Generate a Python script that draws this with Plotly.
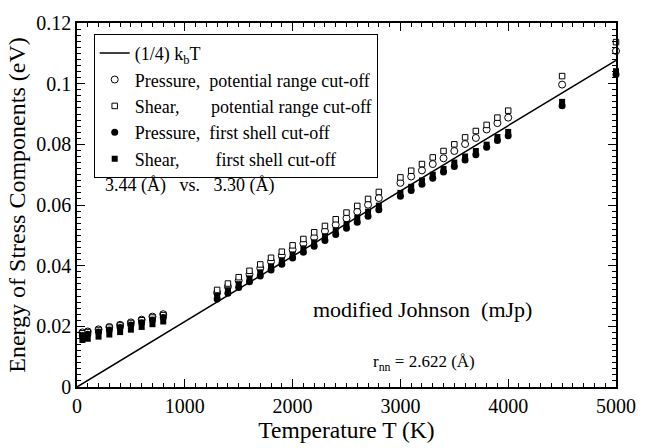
import plotly.graph_objects as go

# Temperatures (K)
temps = [50, 100, 200, 300, 400, 500, 600, 700, 800,
         1300, 1400, 1500, 1600, 1700, 1800, 1900, 2000, 2100, 2200,
         2300, 2400, 2500, 2600, 2700, 2800,
         3000, 3100, 3200, 3300, 3400, 3500, 3600, 3700, 3800, 3900, 4000,
         4500, 5000]

# Pressure, potential range cut-off (eV)
pressure_range = [0.0180, 0.0183, 0.0190, 0.0198, 0.0205, 0.0213, 0.0222, 0.0232, 0.0240,
                  0.0311, 0.0331, 0.0351, 0.0372, 0.0392, 0.0414, 0.0433, 0.0453, 0.0473, 0.0493,
                  0.0514, 0.0535, 0.0556, 0.0578, 0.0601, 0.0623,
                  0.0673, 0.0694, 0.0714, 0.0735, 0.0754, 0.0778, 0.0801, 0.0821, 0.0849, 0.0870, 0.0888,
                  0.0997, 0.1108]

# Shear, potential range cut-off (eV)
shear_range = [0.0177, 0.0181, 0.0188, 0.0196, 0.0203, 0.0211, 0.0220, 0.0229, 0.0237,
               0.0320, 0.0341, 0.0362, 0.0383, 0.0404, 0.0426, 0.0446, 0.0467, 0.0488, 0.0510,
               0.0531, 0.0553, 0.0575, 0.0597, 0.0620, 0.0643,
               0.0691, 0.0713, 0.0735, 0.0757, 0.0778, 0.0800, 0.0823, 0.0844, 0.0864, 0.0888, 0.0911,
               0.1025, 0.1137]

# Pressure, first shell cut-off (eV)
pressure_shell = [0.0170, 0.0174, 0.0181, 0.0188, 0.0196, 0.0204, 0.0212, 0.0221, 0.0229,
                  0.0290, 0.0309, 0.0328, 0.0347, 0.0366, 0.0386, 0.0405, 0.0425, 0.0444, 0.0464,
                  0.0483, 0.0503, 0.0523, 0.0543, 0.0563, 0.0584,
                  0.0629, 0.0648, 0.0668, 0.0688, 0.0709, 0.0727, 0.0748, 0.0766, 0.0790, 0.0813, 0.0828,
                  0.0927, 0.1030]

# Shear, first shell cut-off (eV)
shear_shell = [0.0155, 0.0159, 0.0166, 0.0173, 0.0181, 0.0189, 0.0198, 0.0207, 0.0216,
               0.0300, 0.0319, 0.0339, 0.0358, 0.0378, 0.0398, 0.0418, 0.0437, 0.0457, 0.0477,
               0.0497, 0.0517, 0.0537, 0.0558, 0.0578, 0.0598,
               0.0640, 0.0660, 0.0681, 0.0700, 0.0719, 0.0740, 0.0760, 0.0778, 0.0799, 0.0824, 0.0841,
               0.0940, 0.1041]

# Reference line (1/4) k_B T
K_B = 8.617e-5  # eV/K
line_t = [0, 5000]
line_e = [0.25 * K_B * t for t in line_t]

FONT = "Liberation Serif"
NB = "\u00a0"

fig = go.Figure()

fig.add_trace(go.Scatter(
    x=line_t, y=line_e, mode="lines", name="(1/4) k<sub>b</sub>T",
    line=dict(color="black", width=1.5), cliponaxis=False))

fig.add_trace(go.Scatter(
    x=temps, y=pressure_range, mode="markers",
    name="Pressure," + NB * 2 + "potential range cut-off",
    marker=dict(symbol="circle", size=7, color="white", line=dict(color="black", width=1)),
    cliponaxis=False))

fig.add_trace(go.Scatter(
    x=temps, y=shear_range, mode="markers",
    name="Shear," + NB * 7 + "potential range cut-off",
    marker=dict(symbol="square", size=5.5, color="white", line=dict(color="black", width=1)),
    cliponaxis=False))

fig.add_trace(go.Scatter(
    x=temps, y=pressure_shell, mode="markers",
    name="Pressure," + NB * 2 + "first shell cut-off",
    marker=dict(symbol="circle", size=7, color="black", line=dict(color="black", width=0)),
    cliponaxis=False))

fig.add_trace(go.Scatter(
    x=temps, y=shear_shell, mode="markers",
    name="Shear," + NB * 8 + "first shell cut-off",
    marker=dict(symbol="square", size=6, color="black", line=dict(color="black", width=0)),
    cliponaxis=False))

axis_common = dict(
    showgrid=False, zeroline=False, showline=True, linecolor="black", linewidth=1.5,
    mirror="ticks", ticks="inside", ticklen=8, tickwidth=1, tickcolor="black",
    tickfont=dict(family=FONT, size=20, color="black"),
)

fig.update_xaxes(
    **axis_common, range=[0, 5000], tick0=0, dtick=1000,
    minor=dict(dtick=100, ticks="inside", ticklen=4, tickwidth=1, tickcolor="black"),
    title=dict(text="Temperature T (K)", font=dict(family=FONT, size=23.5, color="black"), standoff=3),
)
fig.update_yaxes(
    **axis_common, range=[0, 0.12],
    tickvals=[0, 0.02, 0.04, 0.06, 0.08, 0.1, 0.12],
    ticktext=["0", "0.02", "0.04", "0.06", "0.08", "0.1", "0.12"],
    minor=dict(dtick=0.002, ticks="inside", ticklen=4, tickwidth=1, tickcolor="black"),
    title=dict(text="Energy of Stress Components (eV)", font=dict(family=FONT, size=24, color="black"), standoff=4),
)

fig.add_annotation(x=0.049, y=0.553, xref="paper", yref="paper", xanchor="left", yanchor="middle",
                   text="3.44 (Å)" + NB * 3 + "vs." + NB * 3 + "3.30 (Å)", showarrow=False,
                   font=dict(family=FONT, size=18, color="black"))
fig.add_annotation(x=0.434, y=0.213, xref="paper", yref="paper", xanchor="left", yanchor="middle",
                   text="modified Johnson" + NB * 2 + "(mJp)", showarrow=False,
                   font=dict(family=FONT, size=22, color="black"))
fig.add_annotation(x=0.546, y=0.065, xref="paper", yref="paper", xanchor="left", yanchor="middle",
                   text="r<sub>nn</sub> = 2.622 (Å)", showarrow=False,
                   font=dict(family=FONT, size=17, color="black"))

fig.update_layout(
    width=648, height=448,
    margin=dict(l=77, r=20, t=17, b=45),
    paper_bgcolor="white", plot_bgcolor="white",
    showlegend=True,
    legend=dict(x=0.031, y=0.97, xanchor="left", yanchor="top",
                bgcolor="white", bordercolor="black", borderwidth=1,
                font=dict(family=FONT, size=18, color="black"),
                itemwidth=30, tracegroupgap=0),
)

fig.write_html("out.html")
